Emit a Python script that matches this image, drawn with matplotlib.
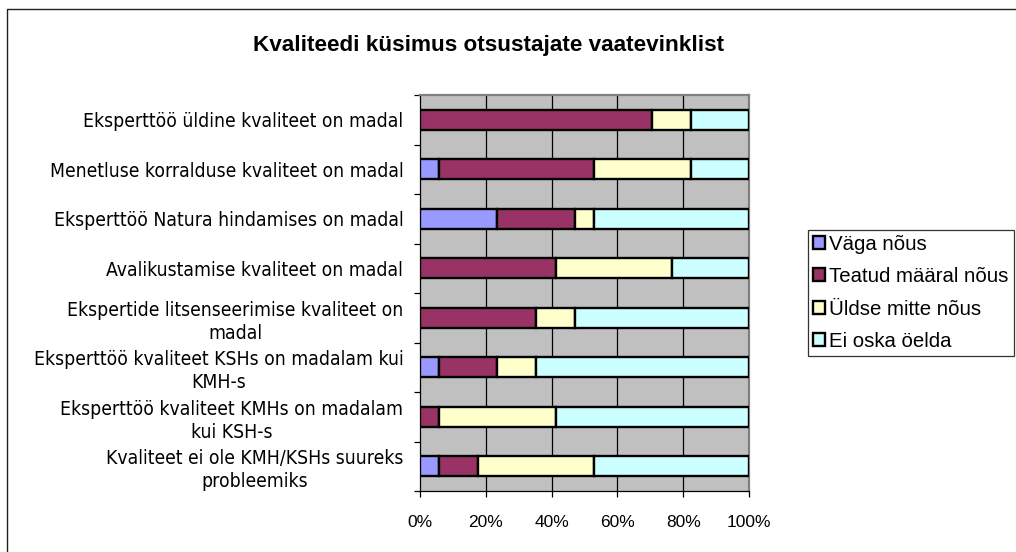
import matplotlib
matplotlib.use("Agg")
import matplotlib.pyplot as plt
from matplotlib.lines import Line2D
from matplotlib import font_manager
import numpy as np

categories = [
    "Eksperttöö üldine kvaliteet on madal",
    "Menetluse korralduse kvaliteet on madal",
    "Eksperttöö Natura hindamises on madal",
    "Avalikustamise kvaliteet on madal",
    "Ekspertide litsenseerimise kvaliteet on\nmadal",
    "Eksperttöö kvaliteet KSHs on madalam kui\nKMH-s",
    "Eksperttöö kvaliteet KMHs on madalam\nkui KSH-s",
    "Kvaliteet ei ole KMH/KSHs suureks\nprobleemiks",
]
series_names = ["Väga nõus", "Teatud määral nõus", "Üldse mitte nõus", "Ei oska öelda"]
vaga_nous = [0.0, 5.9, 23.5, 0.0, 0.0, 5.9, 0.0, 5.9]
teatud_maaral = [70.6, 47.1, 23.5, 41.2, 35.3, 17.6, 5.9, 11.8]
uldse_mitte = [11.8, 29.4, 5.9, 35.3, 11.8, 11.8, 35.3, 35.3]
ei_oska = [17.6, 17.6, 47.1, 23.5, 52.9, 64.7, 58.8, 47.1]
x_ticks = [0, 20, 40, 60, 80, 100]
x_tick_labels = ["0%", "20%", "40%", "60%", "80%", "100%"]
title = "Kvaliteedi küsimus otsustajate vaatevinklist"

colors = ["#9999FF", "#993366", "#FFFFCC", "#CCFFFF"]

W, H = 1016, 552
fig = plt.figure(figsize=(W / 100, H / 100), dpi=100)
fig.patch.set_facecolor("white")

# outer chart frame (left and top edges visible)
fig.add_artist(Line2D([7 / W, 7 / W, 1.0], [0.0, 1 - 9 / H, 1 - 9 / H],
                      transform=fig.transFigure, color="#202020", lw=1.0))

ax = fig.add_axes([420 / W, 1 - 491 / H, 329 / W, 396 / H])
ax.set_facecolor("#C0C0C0")

y = np.arange(len(categories))
series = [vaga_nous, teatud_maaral, uldse_mitte, ei_oska]
left = np.zeros(len(categories))
handles = []
for name, vals, c in zip(series_names, series, colors):
    vals = np.array(vals)
    b = ax.barh(y, vals, left=left, height=0.4, color=c, edgecolor="black",
                linewidth=1.7, label=name, zorder=3)
    handles.append(b)
    left = left + vals

ax.set_xlim(0, 100)
ax.set_ylim(len(categories) - 0.5, -0.5)

for xv in x_ticks[1:-1]:
    ax.axvline(xv, color="black", lw=0.9, zorder=1)

ax.set_xticks(x_ticks)
ax.set_xticklabels(x_tick_labels, fontfamily="Liberation Sans", fontsize=12.5)
ax.tick_params(axis="x", direction="out", length=4.5, width=0.9, pad=12.5, colors="black")

# major ticks at category boundaries, labels at centres
ax.set_yticks(np.arange(len(categories) + 1) - 0.5)
ax.set_yticklabels([])
ax.tick_params(axis="y", which="major", direction="out", length=4.5, width=0.9)
ax.set_yticks(y, minor=True)
stretch = "normal"
for f in font_manager.fontManager.ttflist:
    if f.name == "DejaVu Sans" and "Condensed" in f.fname:
        stretch = "condensed"
        break
ax.set_yticklabels(categories, minor=True, fontfamily="DejaVu Sans",
                   fontstretch=stretch, fontsize=13.9 if stretch == "condensed" else 12.5,
                   ha="right", multialignment="center", linespacing=1.27)
ax.tick_params(axis="y", which="minor", length=0, pad=12)

for s in ["left", "bottom"]:
    ax.spines[s].set_color("black")
    ax.spines[s].set_linewidth(0.9)
for s in ["top", "right"]:
    ax.spines[s].set_color("#808080")
    ax.spines[s].set_linewidth(1.6)

fig.text(489 / W, 1 - 45 / H, title, ha="center", va="center",
         fontfamily="Liberation Sans", fontweight="bold", fontsize=16.2)

leg = fig.legend(handles=handles, labels=series_names, loc="upper left",
                 bbox_to_anchor=(808 / W, 1 - 229.5 / H), borderaxespad=0,
                 frameon=True, fancybox=False, shadow=False, edgecolor="black",
                 prop={"family": "Liberation Sans", "size": 14.7},
                 handlelength=0.6, handleheight=0.6, handletextpad=0.2,
                 labelspacing=0.66, borderpad=0.25)
leg.get_frame().set_linewidth(0.9)
for p in leg.get_patches():
    p.set_linewidth(1.7)

fig.savefig("out.png", dpi=100)
